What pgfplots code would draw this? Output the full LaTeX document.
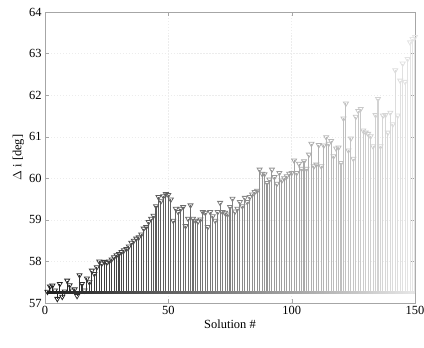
\documentclass[border=0pt]{standalone}
\usepackage{fontspec}
\setmainfont{Liberation Serif}
\usepackage{pgfplots}
\usepackage{pgfplotstable}
\pgfplotsset{compat=1.18}

% inclination change of each solution
\pgfplotstableread{
x y
1 57.27
2 57.40
3 57.42
4 57.30
5 57.10
6 57.46
7 57.15
8 57.28
9 57.54
10 57.43
11 57.30
12 57.33
13 57.17
14 57.67
15 57.46
16 57.30
17 57.59
18 57.50
19 57.78
20 57.70
21 57.86
22 58.00
23 57.95
24 57.99
25 57.97
26 58.00
27 58.05
28 58.10
29 58.15
30 58.18
31 58.23
32 58.27
33 58.30
34 58.36
35 58.45
36 58.50
37 58.55
38 58.58
39 58.65
40 58.79
41 58.83
42 58.95
43 59.03
44 59.10
45 59.33
46 59.55
47 59.45
48 59.57
49 59.62
50 59.60
51 59.49
52 58.98
53 59.27
54 59.19
55 59.27
56 59.31
57 58.85
58 59.03
59 59.35
60 59.03
61 58.98
62 58.96
63 59.01
64 59.19
65 59.17
66 58.83
67 59.19
68 59.09
69 58.98
70 59.19
71 59.41
72 59.19
73 59.17
74 59.13
75 59.31
76 59.51
77 59.20
78 59.27
79 59.43
80 59.33
81 59.53
82 59.43
83 59.55
84 59.61
85 59.67
86 59.70
87 60.21
88 60.11
89 60.10
90 59.89
91 59.97
92 60.21
93 60.03
94 59.87
95 60.13
96 59.95
97 60.00
98 60.05
99 60.11
100 60.13
101 60.43
102 60.13
103 60.35
104 60.23
105 60.41
106 60.23
107 60.57
108 60.83
109 60.29
110 60.33
111 60.80
112 60.29
113 60.79
114 60.99
115 60.83
116 60.90
117 60.53
118 60.72
119 60.74
120 60.37
121 61.44
122 61.80
123 60.67
124 60.96
125 60.47
126 61.48
127 61.62
128 61.67
129 61.15
130 61.10
131 61.07
132 61.01
133 60.77
134 61.52
135 61.91
136 60.77
137 61.51
138 61.52
139 61.10
140 61.58
141 61.30
142 62.60
143 61.51
144 62.35
145 62.76
146 62.32
147 62.87
148 63.27
149 63.35
150 63.40
}\data

\begin{document}
\begin{tikzpicture}
\begin{axis}[
  name=ax,
  scale only axis,
  width=370bp, height=291bp,
  xmin=0, xmax=150, ymin=57, ymax=64,
  xtick={0,50,100,150},
  ytick={57,58,...,64},
  tick align=inside,
  axis line style={gray!70},
  major tick style={gray!70},
  grid=major,
  major grid style={gray!15, dash pattern=on 1.5pt off 1.5pt},
  colormap={bw}{gray(0cm)=(0.12); gray(1cm)=(0.9)},
  point meta min=1, point meta max=150,
  /pgf/number format/assume math mode=true,
  tick label style={font=\fontsize{12.5}{14}\selectfont},
  label style={font=\fontsize{12.5}{14}\selectfont},
  xlabel={Solution \#},
  ylabel={$\Delta$ i [deg]},
  ylabel style={yshift=-2pt},
  xlabel style={yshift=2pt},
]
% stems from the base value up to each solution
\addplot[quiver={u=0, v=\thisrow{y}-57.25, colored}, point meta=\thisrow{x},
  line width=1.1bp, -] table[x=x, y expr=57.25] {\data};
% base line
\addplot[mesh, line width=3bp, point meta=\thisrow{x}] table[x=x, y expr=57.25] {\data};
% markers
\addplot[scatter, only marks, mark=triangle, mark size=2.9bp,
  mark options={rotate=180, line width=0.8bp},
  scatter/use mapped color={draw=mapped color, fill=white},
  point meta=\thisrow{x}] table[x=x, y=y] {\data};
\end{axis}
\pgfresetboundingbox
\path (ax.south west) ++(-45bp,-45bp) coordinate (bl);
\path (ax.north east) ++(9bp,12bp) coordinate (tr);
\path[use as bounding box] (bl) rectangle (tr);
\end{tikzpicture}
\end{document}
